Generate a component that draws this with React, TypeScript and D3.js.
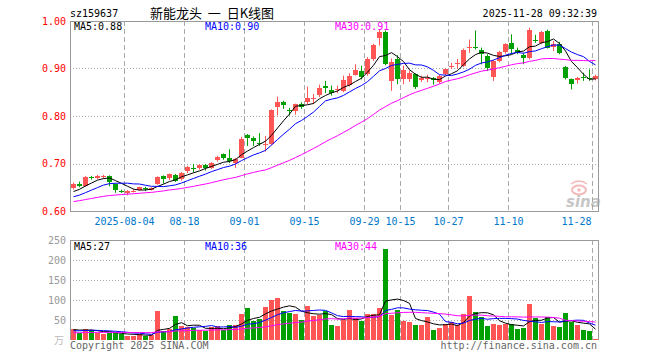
import React from "react";
import * as d3 from "d3";

const dates = [
  "2025-07-22","2025-07-23","2025-07-24","2025-07-25","2025-07-28","2025-07-29","2025-07-30","2025-07-31",
  "2025-08-01","2025-08-04","2025-08-05","2025-08-06","2025-08-07","2025-08-08","2025-08-11","2025-08-12",
  "2025-08-13","2025-08-14","2025-08-15","2025-08-18","2025-08-19","2025-08-20","2025-08-21","2025-08-22",
  "2025-08-25","2025-08-26","2025-08-27","2025-08-28","2025-08-29","2025-09-01","2025-09-02","2025-09-03",
  "2025-09-04","2025-09-05","2025-09-08","2025-09-09","2025-09-10","2025-09-11","2025-09-12","2025-09-15",
  "2025-09-16","2025-09-17","2025-09-18","2025-09-19","2025-09-22","2025-09-23","2025-09-24","2025-09-25",
  "2025-09-26","2025-09-29","2025-09-30","2025-10-09","2025-10-10","2025-10-13","2025-10-14","2025-10-15",
  "2025-10-16","2025-10-17","2025-10-20","2025-10-21","2025-10-22","2025-10-23","2025-10-24","2025-10-27",
  "2025-10-28","2025-10-29","2025-10-30","2025-10-31","2025-11-03","2025-11-04","2025-11-05","2025-11-06",
  "2025-11-07","2025-11-10","2025-11-11","2025-11-12","2025-11-13","2025-11-14","2025-11-17","2025-11-18",
  "2025-11-19","2025-11-20","2025-11-21","2025-11-24","2025-11-25","2025-11-26","2025-11-27","2025-11-28",
];

const openP = [
  0.648,0.657,0.653,0.671,0.670,0.671,0.673,0.656,0.642,0.637,0.641,0.644,0.648,0.645,0.656,0.674,
  0.669,0.676,0.667,0.684,0.690,0.690,0.696,0.690,0.707,0.720,0.712,0.702,0.712,0.761,0.754,0.744,
  0.740,0.741,0.820,0.830,0.813,0.811,0.825,0.829,0.836,0.844,0.864,0.855,0.854,0.853,0.866,0.887,
  0.894,0.888,0.920,0.964,0.976,0.874,0.921,0.878,0.878,0.888,0.876,0.878,0.879,0.872,0.888,0.904,
  0.909,0.905,0.945,0.946,0.939,0.926,0.882,0.916,0.935,0.953,0.940,0.928,0.923,0.960,0.954,0.979,
  0.945,0.952,0.903,0.877,0.876,0.883,0.881,0.877,
];
const highP = [
  0.660,0.662,0.674,0.674,0.676,0.676,0.675,0.658,0.645,0.644,0.646,0.651,0.651,0.650,0.673,0.675,
  0.679,0.678,0.682,0.695,0.699,0.699,0.699,0.703,0.716,0.721,0.730,0.712,0.756,0.762,0.757,0.764,
  0.758,0.814,0.841,0.832,0.817,0.826,0.829,0.862,0.846,0.866,0.874,0.864,0.864,0.885,0.890,0.909,
  0.906,0.924,0.952,0.983,0.980,0.921,0.928,0.906,0.896,0.890,0.885,0.887,0.882,0.887,0.900,0.912,
  0.920,0.942,0.961,0.980,0.944,0.930,0.918,0.937,0.953,0.972,0.944,0.933,0.986,0.971,0.979,0.982,
  0.958,0.956,0.905,0.879,0.882,0.891,0.898,0.887,
];
const lowP = [
  0.645,0.650,0.651,0.666,0.667,0.668,0.652,0.638,0.638,0.633,0.639,0.643,0.642,0.643,0.655,0.658,
  0.665,0.661,0.664,0.680,0.681,0.687,0.685,0.688,0.704,0.708,0.701,0.691,0.711,0.737,0.737,0.737,
  0.725,0.739,0.801,0.815,0.801,0.803,0.815,0.825,0.825,0.840,0.848,0.843,0.848,0.850,0.862,0.885,
  0.877,0.885,0.916,0.948,0.907,0.853,0.867,0.867,0.872,0.857,0.872,0.871,0.866,0.868,0.886,0.899,
  0.900,0.903,0.933,0.940,0.909,0.895,0.874,0.913,0.931,0.930,0.930,0.909,0.919,0.954,0.951,0.942,
  0.937,0.930,0.877,0.856,0.868,0.874,0.874,0.875,
];
const closeP = [
  0.657,0.653,0.672,0.670,0.673,0.673,0.660,0.644,0.641,0.643,0.642,0.650,0.646,0.648,0.672,0.667,
  0.677,0.664,0.680,0.692,0.689,0.697,0.690,0.701,0.714,0.711,0.706,0.709,0.752,0.753,0.747,0.741,
  0.742,0.813,0.830,0.824,0.811,0.825,0.820,0.838,0.838,0.860,0.860,0.848,0.857,0.876,0.885,0.897,
  0.883,0.920,0.949,0.976,0.909,0.913,0.878,0.897,0.890,0.861,0.881,0.880,0.876,0.885,0.899,0.905,
  0.911,0.940,0.946,0.944,0.930,0.902,0.916,0.935,0.951,0.942,0.932,0.923,0.981,0.958,0.977,0.944,
  0.951,0.933,0.879,0.867,0.879,0.881,0.880,0.884,
];
const volume = [
  27.5,18.3,27.5,25,18.3,15,18.3,16.7,14.2,10.8,10.8,14.2,10.8,12.5,72.5,22.5,
  26.7,60,35,33.3,30.8,25,22.5,33.3,35,25,37.5,37.5,65,80.8,48.3,51.7,
  81.7,100,105,72.5,68.3,65,50,85,60,62.5,72.5,37.5,35,50,75,56,
  48,65,65,81,227.5,62.5,75,48,45,37.5,37.5,57.5,25,31,40,46,
  37.5,65,110.8,70.8,58,35,40,37.5,40,39,28,31,91,56,41,56.7,
  36,33,68,46,38,26,23,3,
];
// closes / volumes of the 29 sessions before the window (for the moving averages)
const priorClose = [
  0.600,0.603,0.598,0.605,0.610,0.608,0.612,0.615,0.611,0.618,0.620,0.617,0.622,0.625,0.620,
  0.618,0.623,0.626,0.624,0.625,0.618,0.621,0.616,0.620,0.620,0.630,0.636,0.640,0.642,
];
const priorVolume = [
  14,16,15,13,17,18,15,14,16,15,17,16,14,15,16,17,15,16,15,16,18,21,20,19,22,24,27,25,26.5,
];

const priceTicks = [1.0, 0.9, 0.8, 0.7, 0.6];
const volTicks = [250, 200, 150, 100, 50];
const dateTicks = ["2025-08-04","2025-08-18","2025-09-01","2025-09-15","2025-09-29","2025-10-15","2025-10-27","2025-11-10","2025-11-28"];
const maPeriods = [5, 10, 30];
const maColors = ["#000000", "#0000ff", "#ff00ff"];
const priceMaLabels = ["MA5:0.88", "MA10:0.90", "MA30:0.91"];
const volMaLabels = ["MA5:27", "MA10:36", "MA30:44"];

const UP = "#ff5555";
const DOWN = "#00a000";
const MONO = "'DejaVu Sans Mono', 'Liberation Mono', monospace";

function movingAvg(prior: number[], series: number[], n: number): number[] {
  const all = prior.concat(series);
  return series.map((_, i) => {
    const end = prior.length + i + 1;
    return d3.mean(all.slice(end - n, end)) as number;
  });
}

export default function App() {
  const L = 70, R = 598;
  const pTop = 21, pBot = 211;
  const vTop = 240, vBot = 340;

  const x = d3.scaleBand<string>().domain(dates).range([L, R]).padding(0);
  const bw = x.bandwidth();
  const cx = (d: string) => Math.round((x(d) as number) + bw / 2) + 0.5;
  const y = d3.scaleLinear().domain([0.6, 1.0]).range([pBot, pTop]);
  const yv = d3.scaleLinear().domain([0, 250]).range([vBot, vTop]);

  const priceMAs = maPeriods.map((n) => movingAvg(priorClose, closeP, n));
  const volMAs = maPeriods.map((n) => movingAvg(priorVolume, volume, n));

  const priceLine = d3.line<number>().x((_, i) => cx(dates[i])).y((v) => y(v));
  const volLine = d3.line<number>().x((_, i) => cx(dates[i])).y((v) => yv(v));

  const gridX = (d: string) => Math.round(x(d) as number) + 0.5;

  return (
    <svg width={660} height={360} style={{ position: "absolute", left: 0, top: 0, background: "#fff" }}
      fontFamily={MONO}>
      <rect x={0} y={0} width={660} height={360} fill="#fff" />
      {/* header */}
      <text x={70} y={17} fontSize={10} fill="#000">sz159637</text>
      <text x={150} y={18} fontSize={13} fill="#000"
        fontFamily="'Noto Sans CJK SC', sans-serif" style={{ whiteSpace: "pre" }}>
        {"新能龙头\u00a0\u00a0一\u00a0\u00a0日K线图"}
      </text>
      <text x={597} y={17} fontSize={10} fill="#000" textAnchor="end">2025-11-28 09:32:39</text>

      {/* price grid */}
      {priceTicks.filter((t) => t > 0.6 && t < 1.0).map((t) => (
        <line key={"hp" + t} x1={L} x2={R} y1={Math.round(y(t)) + 0.5} y2={Math.round(y(t)) + 0.5}
          stroke="#aaa" strokeDasharray="1,2" />
      ))}
      {dateTicks.map((d) => (
        <line key={"vp" + d} x1={gridX(d)} x2={gridX(d)} y1={pTop} y2={pBot} stroke="#aaa" strokeDasharray="5,3" />
      ))}
      {/* volume grid */}
      {volTicks.filter((t) => t < 250).map((t) => (
        <line key={"hv" + t} x1={L} x2={R} y1={Math.round(yv(t)) + 0.5} y2={Math.round(yv(t)) + 0.5}
          stroke="#aaa" strokeDasharray="1,2" />
      ))}
      {dateTicks.map((d) => (
        <line key={"vv" + d} x1={gridX(d)} x2={gridX(d)} y1={vTop} y2={vBot} stroke="#aaa" strokeDasharray="5,3" />
      ))}

      {/* watermark */}
      <g opacity={0.55}>
        <ellipse cx={579} cy={190} rx={7} ry={4.5} fill="none" stroke="#f08080" strokeWidth={2} />
        <circle cx={579} cy={190} r={1.8} fill="#f08080" />
        <path d="M571,184 Q579,178 587,184" fill="none" stroke="#f08080" strokeWidth={1.5} />
        <text x={566} y={207} fontSize={15} fontWeight="bold" fontStyle="italic" fill="#999"
          fontFamily="'DejaVu Sans', sans-serif">sina</text>
      </g>

      {/* candles */}
      {dates.map((d, i) => {
        const up = closeP[i] >= openP[i];
        const col = up ? UP : DOWN;
        const c = cx(d);
        const top = Math.round(y(Math.max(openP[i], closeP[i])));
        const bot = Math.round(y(Math.min(openP[i], closeP[i])));
        return (
          <g key={"c" + d}>
            <line x1={c} x2={c} y1={y(highP[i])} y2={y(lowP[i])} stroke={col} />
            <rect x={c - 2.5} y={top} width={5} height={Math.max(1, bot - top)} fill={col} />
          </g>
        );
      })}
      {/* price MAs */}
      {priceMAs.map((m, k) => (
        <path key={"pm" + k} d={priceLine(m) as string} fill="none" stroke={maColors[k]} strokeWidth={1} />
      ))}

      {/* volume bars */}
      {dates.map((d, i) => {
        const up = closeP[i] >= openP[i];
        const c = cx(d);
        const top = Math.round(yv(volume[i]));
        return <rect key={"v" + d} x={c - 2.5} y={top} width={5} height={vBot - top} fill={up ? UP : DOWN} />;
      })}
      {volMAs.map((m, k) => (
        <path key={"vm" + k} d={volLine(m) as string} fill="none" stroke={maColors[k]} strokeWidth={1} />
      ))}

      {/* borders */}
      <rect x={L + 0.5} y={pTop + 0.5} width={R - L} height={pBot - pTop} fill="none" stroke="#999" />
      <line x1={L + 0.5} x2={R + 0.5} y1={vTop + 0.5} y2={vTop + 0.5} stroke="#999" />
      <line x1={L + 0.5} x2={L + 0.5} y1={vTop} y2={vBot} stroke="#999" />
      <line x1={R + 0.5} x2={R + 0.5} y1={vTop} y2={vBot} stroke="#999" />

      {/* MA labels */}
      {priceMaLabels.map((t, k) => (
        <text key={"pl" + k} x={[74, 205, 335][k]} y={30} fontSize={10} fill={maColors[k]}>{t}</text>
      ))}
      {volMaLabels.map((t, k) => (
        <text key={"vl" + k} x={[74, 205, 335][k]} y={249.5} fontSize={10} fill={maColors[k]}>{t}</text>
      ))}

      {/* price axis labels */}
      {priceTicks.map((t) => (
        <text key={"pt" + t} x={66} y={y(t)} dy="0.35em" fontSize={10} fill="#ff0000" textAnchor="end">
          {t.toFixed(2)}
        </text>
      ))}
      {/* volume axis labels */}
      {volTicks.map((t) => (
        <text key={"vt" + t} x={66} y={yv(t)} dy="0.35em" fontSize={10} fill="#999" textAnchor="end">{t}</text>
      ))}
      <text x={64} y={344} fontSize={10} fill="#bbb" textAnchor="end"
        fontFamily="'Noto Sans CJK SC', sans-serif">万</text>

      {/* date labels */}
      {dateTicks.map((d, i) => {
        const last = i === dateTicks.length - 1;
        return (
          <text key={"dt" + d} x={last ? gridX(d) - 1 : gridX(d)} y={225} fontSize={10} fill="#0077cc"
            textAnchor={last ? "end" : "middle"}>
            {i === 0 ? d : d.slice(5)}
          </text>
        );
      })}

      {/* footer */}
      <text x={70} y={348.5} fontSize={10} fill="#666">Copyright 2025 SINA.COM</text>
      <text x={597} y={348.5} fontSize={10} fill="#666" textAnchor="end">http://finance.sina.com.cn</text>
    </svg>
  );
}
